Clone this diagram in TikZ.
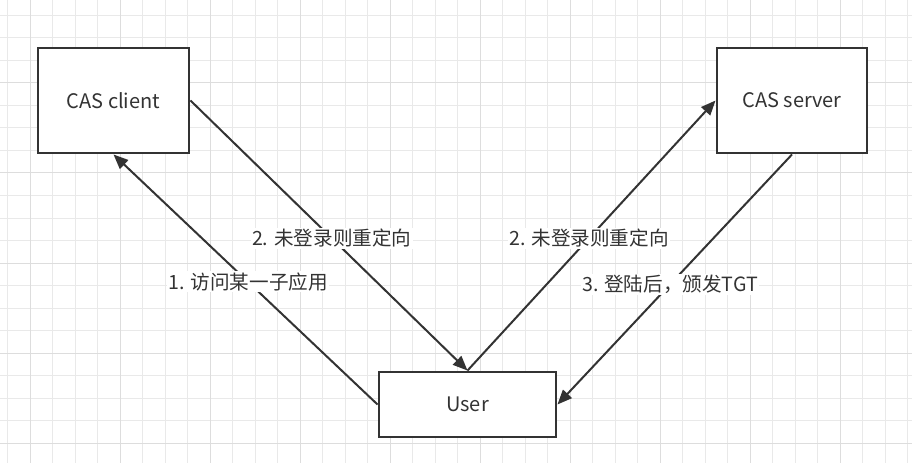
\documentclass[tikz,border=0pt]{standalone}
\usepackage{fontspec}
\setmainfont{Noto Sans CJK SC}
\usetikzlibrary{arrows.meta}
\definecolor{inkGray}{HTML}{333333}
\definecolor{gridMinor}{HTML}{E9E9E9}
\definecolor{gridMajor}{HTML}{DDDDDD}

\begin{document}
\begin{tikzpicture}[
    x=0.75pt, y=-0.75pt,
    box/.style={draw=inkGray, line width=2.2pt, fill=white, inner sep=0pt, text=inkGray, font=\fontsize{15}{18}\selectfont},
    lbl/.style={fill=white, inner sep=1pt, text=inkGray, font=\fontsize{14.7}{17}\selectfont},
    arr/.style={-{Triangle[length=11pt, width=9pt]}, draw=inkGray, line width=1.5pt}
  ]
    \useasboundingbox (0,0) rectangle (912,463);
    % background grid
    \foreach \gx in {7.5,30,...,910} \draw[gridMinor, line width=0.75pt] (\gx,0) -- (\gx,463);
    \foreach \gy in {15.5,38,...,460} \draw[gridMinor, line width=0.75pt] (0,\gy) -- (912,\gy);
    \foreach \gx in {30,120,...,910} \draw[gridMajor, line width=0.75pt] (\gx,0) -- (\gx,463);
    \foreach \gy in {83,173,...,460} \draw[gridMajor, line width=0.75pt] (0,\gy) -- (912,\gy);

    \node[box, minimum width=113.25pt, minimum height=78.75pt] (client) at (113.5,100.5) {CAS client};
    \node[box, minimum width=112.5pt, minimum height=78.75pt] (server) at (792,100.5) {CAS server};
    \node[box, minimum width=132.75pt, minimum height=48.75pt] (user) at (467.5,404.5) {User};

    \draw[arr] (user.west) -- node[lbl, pos=0.49] {1. 访问某一子应用} (client.south);
    \draw[arr] (client.east) -- node[lbl, pos=0.51] {2. 未登录则重定向} (user.north);
    \draw[arr] (user.north) -- node[lbl, pos=0.49] {2. 未登录则重定向} (server.west);
    \draw[arr] (server.south) -- node[lbl, pos=0.52] {3. 登陆后，颁发TGT} (user.east);
  \end{tikzpicture}
\end{document}
